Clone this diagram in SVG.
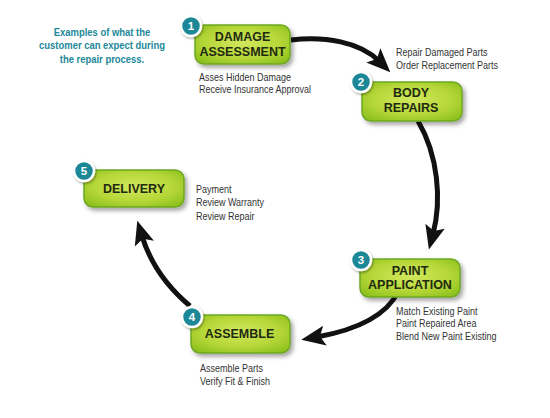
<svg xmlns="http://www.w3.org/2000/svg" width="550" height="418" viewBox="0 0 550 418">
<style>
.box{fill:url(#g);stroke:#6ea824;stroke-width:1.5;filter:url(#sh)}
.title{font-family:"Liberation Sans",Arial,sans-serif;font-weight:bold;font-size:12.5px;fill:#1f2a10;text-anchor:middle}
.desc{font-family:"Liberation Sans",Arial,sans-serif;font-size:10px;fill:#333}
.hdr{font-family:"Liberation Sans",Arial,sans-serif;font-weight:bold;font-size:10.5px;fill:#23889a;text-anchor:middle}
.badge{fill:#1b8797;stroke:#fff;stroke-width:2.5;filter:url(#sh2)}
.num{font-family:"Liberation Sans",Arial,sans-serif;font-weight:bold;font-size:11.5px;fill:#fff;text-anchor:middle}
.arr{fill:none;stroke:#111;stroke-width:5;marker-end:url(#ah)}
</style>
<defs>
<radialGradient id="g" cx="50%" cy="45%" r="65%">
<stop offset="0" stop-color="#d2e85e"/>
<stop offset="0.6" stop-color="#b6d738"/>
<stop offset="1" stop-color="#8ec21e"/>
</radialGradient>
<filter id="sh" x="-20%" y="-30%" width="150%" height="180%">
<feDropShadow dx="2.5" dy="3" stdDeviation="2" flood-color="#000" flood-opacity="0.35"/>
</filter>
<filter id="sh2" x="-50%" y="-50%" width="200%" height="200%">
<feDropShadow dx="1" dy="1.5" stdDeviation="1.2" flood-color="#000" flood-opacity="0.35"/>
</filter>
<marker id="ah" viewBox="-10 -12 30 24" markerWidth="30" markerHeight="24" refX="0" refY="0" orient="auto" markerUnits="userSpaceOnUse">
<path d="M-8,-10 L16,0 L-8,10 L-3,0 z" fill="#111"/>
</marker>
</defs>
<rect width="550" height="418" fill="#fff"/>

<g id="header" transform="translate(102,0) scale(0.9,1)">
<text class="hdr" x="0" y="36">Examples of what the</text>
<text class="hdr" x="0" y="49.5">customer can expect during</text>
<text class="hdr" x="0" y="63">the repair process.</text>
</g>

<g id="connectors">
<path class="arr" d="M291,40 C325,36 360,42 379,61"/>
<path class="arr" d="M418,121 C438,155 442,200 433,234"/>
<path class="arr" d="M398,292 C385,318 350,331 317,337"/>
<path class="arr" d="M190,306 C165,285 150,262 142,236"/>
</g>

<g id="node1">
<rect class="box" x="195" y="25" width="95" height="39" rx="9"/>
<text class="title" x="242.5" y="41">DAMAGE</text>
<text class="title" x="242.5" y="56">ASSESSMENT</text>
<circle class="badge" cx="191" cy="26" r="10"/>
<text class="num" x="191" y="30">1</text>
<g transform="translate(199,0) scale(0.9,1)">
<text class="desc" x="0" y="81">Asses Hidden Damage</text>
<text class="desc" x="0" y="93.5">Receive Insurance Approval</text>
</g>
</g>

<g id="node2">
<rect class="box" x="362" y="82" width="100" height="39" rx="9"/>
<text class="title" x="411" y="97">BODY</text>
<text class="title" x="411" y="112">REPAIRS</text>
<circle class="badge" cx="361" cy="82" r="10"/>
<text class="num" x="361" y="86">2</text>
<g transform="translate(396,0) scale(0.9,1)">
<text class="desc" x="0" y="56.5">Repair Damaged Parts</text>
<text class="desc" x="0" y="69">Order Replacement Parts</text>
</g>
</g>

<g id="node3">
<rect class="box" x="360" y="259" width="100" height="38" rx="9"/>
<text class="title" x="410" y="275">PAINT</text>
<text class="title" x="410" y="289">APPLICATION</text>
<circle class="badge" cx="361" cy="260" r="10"/>
<text class="num" x="361" y="264">3</text>
<g transform="translate(396,0) scale(0.9,1)">
<text class="desc" x="0" y="315">Match Existing Paint</text>
<text class="desc" x="0" y="327.5">Paint Repaired Area</text>
<text class="desc" x="0" y="340">Blend New Paint Existing</text>
</g>
</g>

<g id="node4">
<rect class="box" x="191" y="315" width="99" height="38" rx="9"/>
<text class="title" x="239.5" y="338">ASSEMBLE</text>
<circle class="badge" cx="192" cy="317" r="10"/>
<text class="num" x="192" y="321">4</text>
<g transform="translate(200,0) scale(0.9,1)">
<text class="desc" x="0" y="372">Assemble Parts</text>
<text class="desc" x="0" y="385">Verify Fit &amp; Finish</text>
</g>
</g>

<g id="node5">
<rect class="box" x="84" y="170" width="100" height="37" rx="9"/>
<text class="title" x="134" y="193">DELIVERY</text>
<circle class="badge" cx="84" cy="171" r="10"/>
<text class="num" x="84" y="175">5</text>
<g transform="translate(196,0) scale(0.9,1)">
<text class="desc" x="0" y="193">Payment</text>
<text class="desc" x="0" y="206.5">Review Warranty</text>
<text class="desc" x="0" y="220">Review Repair</text>
</g>
</g>
</svg>
